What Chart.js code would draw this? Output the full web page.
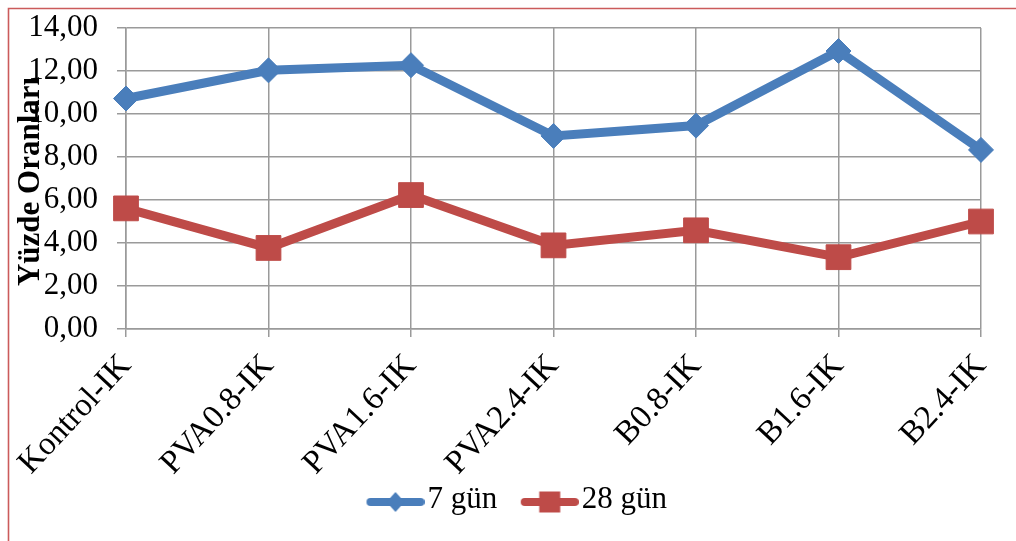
<!DOCTYPE html>
<html>
<head>
<meta charset="utf-8">
<script src="https://cdn.jsdelivr.net/npm/chart.js@4/dist/chart.umd.min.js"></script>
<style>
  html, body { margin: 0; padding: 0; background: #fff; }
  #wrap { width: 1016px; height: 541px; position: relative; }
</style>
</head>
<body>
<div id="wrap"><canvas id="c" width="1016" height="541"></canvas></div>
<script>
// Mixtures on the horizontal axis
const categories = ['Kontrol-IK', 'PVA0.8-IK', 'PVA1.6-IK', 'PVA2.4-IK', 'B0.8-IK', 'B1.6-IK', 'B2.4-IK'];
// Percentage values per curing age
const gun7 = [10.72, 12.03, 12.27, 8.98, 9.46, 12.93, 8.33];
const gun28 = [5.61, 3.77, 6.23, 3.89, 4.59, 3.34, 5.00];
const seriesNames = ['7 gün', '28 gün'];
// Value axis range
const yMin = 0;
const yMax = 14;
const yStep = 2;
const yTitle = 'Yüzde Oranları';

const FONT = "'Liberation Serif', 'Times New Roman', serif";
const BLUE = '#4A7EBB';
const RED = '#BE4B48';
const GRID = '#9A9A9A';

// Legend icons: a short thick line with the series marker in the middle.
// The icon is wider than the visible line; the blank left part spaces the entries apart.
const ICON_W = 84, ICON_H = 30, ICON_BLANK = 26;
function legendIcon(color, shape) {
  const cv = document.createElement('canvas');
  cv.width = ICON_W; cv.height = ICON_H;
  const g = cv.getContext('2d');
  const cy = ICON_H / 2 + 2;
  const x0 = ICON_BLANK + 4, x1 = ICON_W - 4;
  const cx = (ICON_BLANK + ICON_W) / 2;
  g.strokeStyle = color;
  g.lineWidth = 8;
  g.lineCap = 'round';
  g.beginPath();
  g.moveTo(x0, cy);
  g.lineTo(x1, cy);
  g.stroke();
  g.fillStyle = color;
  g.beginPath();
  if (shape === 'diamond') {
    const r = 10;
    g.moveTo(cx, cy - r);
    g.lineTo(cx + r - 1, cy);
    g.lineTo(cx, cy + r);
    g.lineTo(cx - r + 1, cy);
    g.closePath();
  } else {
    const s = 21;
    g.rect(cx - s / 2, cy - s / 2, s, s);
  }
  g.fill();
  return cv;
}
const icons = [legendIcon(BLUE, 'diamond'), legendIcon(RED, 'square')];

// Thin red frame along the top and left edges, rotated axis title over the value labels
const decor = {
  id: 'decor',
  beforeDraw(chart) {
    const ctx = chart.ctx;
    ctx.save();
    ctx.strokeStyle = '#CB5B5B';
    ctx.lineWidth = 1.6;
    ctx.beginPath();
    ctx.moveTo(8.5, 541);
    ctx.lineTo(8.5, 8.5);
    ctx.lineTo(1016, 8.5);
    ctx.stroke();
    ctx.restore();
  },
  afterDraw(chart) {
    const ctx = chart.ctx;
    const a = chart.chartArea;
    ctx.save();
    ctx.translate(31, (a.top + a.bottom) / 2 + 3);
    ctx.rotate(-Math.PI / 2);
    ctx.font = "bold 31px " + FONT;
    ctx.fillStyle = '#000';
    ctx.textAlign = 'center';
    ctx.textBaseline = 'middle';
    ctx.fillText(yTitle, 0, 0);
    ctx.restore();
  }
};

new Chart(document.getElementById('c'), {
  type: 'line',
  data: {
    labels: categories,
    datasets: [
      {
        label: seriesNames[0],
        data: gun7,
        borderColor: BLUE,
        backgroundColor: BLUE,
        borderWidth: 9,
        pointStyle: 'rectRot',
        pointRadius: 12.5,
        pointBorderWidth: 1,
        pointBackgroundColor: BLUE,
        pointBorderColor: BLUE,
        tension: 0,
        fill: false
      },
      {
        label: seriesNames[1],
        data: gun28,
        borderColor: RED,
        backgroundColor: RED,
        borderWidth: 9,
        pointStyle: 'rect',
        pointRadius: 17.5,
        pointBorderWidth: 1,
        pointBackgroundColor: RED,
        pointBorderColor: RED,
        tension: 0,
        fill: false
      }
    ]
  },
  options: {
    responsive: false,
    animation: false,
    layout: { padding: { left: 4, right: 0, top: 28, bottom: 15.5 } },
    plugins: {
      tooltip: { enabled: false },
      legend: {
        position: 'bottom',
        align: 'center',
        labels: {
          usePointStyle: true,
          pointStyleWidth: ICON_W - 25,
          padding: 10,
          color: '#000',
          font: { family: FONT, size: 31 },
          generateLabels(chart) {
            return chart.data.datasets.map((ds, i) => ({
              text: ds.label,
              pointStyle: icons[i],
              fillStyle: ds.borderColor,
              strokeStyle: ds.borderColor,
              lineWidth: 0,
              hidden: false,
              datasetIndex: i,
              fontColor: '#000'
            }));
          }
        }
      }
    },
    scales: {
      x: {
        type: 'category',
        offset: false,
        grid: { color: GRID, lineWidth: 1.5, tickLength: 8, drawTicks: true },
        border: { color: GRID, width: 1.5 },
        ticks: {
          color: '#000',
          font: { family: FONT, size: 33 },
          maxRotation: 47,
          minRotation: 47,
          autoSkip: false,
          padding: 10
        },
        afterFit(scale) {
          scale.height = 145.5;
          scale.paddingLeft = 0;
          scale.paddingRight = 0;
        }
      },
      y: {
        min: yMin,
        max: yMax,
        position: 'left',
        grid: { color: GRID, lineWidth: 1.5, tickLength: 9, drawTicks: true },
        border: { color: GRID, width: 1.5 },
        ticks: {
          stepSize: yStep,
          color: '#000',
          font: { family: FONT, size: 31 },
          padding: 19,
          callback: (v) => Number(v).toFixed(2).replace('.', ',')
        },
        afterFit(scale) {
          scale.width = 122;
          scale.paddingTop = 0;
          scale.paddingBottom = 0;
        }
      },
      yRight: {
        position: 'right',
        display: true,
        grid: { display: false, drawTicks: false },
        border: { display: false },
        ticks: { display: false },
        afterFit(scale) {
          scale.width = 35;
          scale.paddingTop = 0;
          scale.paddingBottom = 0;
        }
      }
    }
  },
  plugins: [decor]
});
</script>
</body>
</html>
